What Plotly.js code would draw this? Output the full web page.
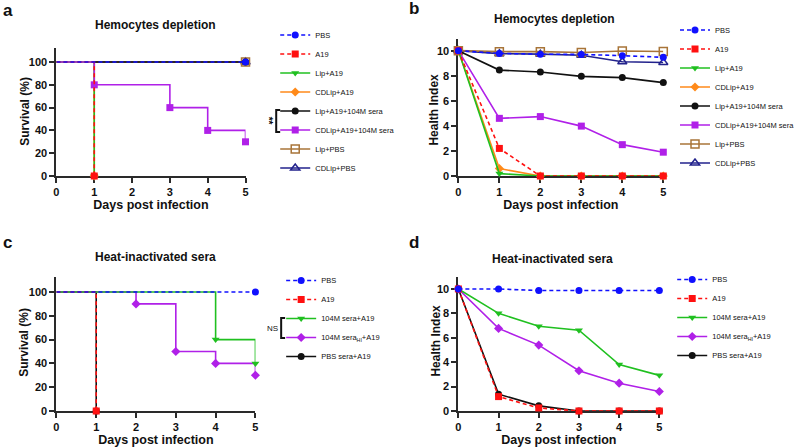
<!DOCTYPE html>
<html>
<head>
<meta charset="utf-8">
<script src="https://cdn.plot.ly/plotly-3.0.1.min.js"></script>
<style>html,body{margin:0;padding:0;background:#fff;}#chart{width:800px;height:448px;}</style>
</head>
<body>
<div id="chart"></div>
<script>
// ---------- DATA ----------
const days = [0, 1, 2, 3, 4, 5];

// Panel a: survival (%) step data, hemocytes depletion
const aNames = ["PBS", "A19", "Lip+A19", "CDLip+A19", "Lip+A19+104M sera", "CDLip+A19+104M sera", "Lip+PBS", "CDLip+PBS"];
const aPBS_x = [0, 5], aPBS_y = [100, 100];
const aA19_x = [0, 1], aA19_y = [100, 0];
const aLipA19_x = [0, 1], aLipA19_y = [100, 0];
const aCDLipA19_x = [0, 1], aCDLipA19_y = [100, 0];
const aLipA19Sera_x = [0, 5], aLipA19Sera_y = [100, 100];
const aCDLipA19Sera_x = [0, 1, 3, 4, 5], aCDLipA19Sera_y = [100, 80, 60, 40, 30];
const aLipPBS_x = [0, 5], aLipPBS_y = [100, 100];
const aCDLipPBS_x = [0, 5], aCDLipPBS_y = [100, 100];

// Panel b: health index, hemocytes depletion
const bPBS = [10, 9.78, 9.72, 9.7, 9.6, 9.47];
const bA19 = [10, 2.2, 0, 0, 0, 0];
const bLipA19 = [10, 0.19, 0, 0, 0, 0];
const bCDLipA19 = [10, 0.59, 0, 0, 0, 0];
const bLipA19Sera = [10, 8.45, 8.3, 7.95, 7.85, 7.45];
const bCDLipA19Sera = [10, 4.6, 4.74, 3.98, 2.5, 1.9];
const bLipPBS = [10, 9.92, 9.92, 9.85, 9.97, 9.93];
const bCDLipPBS = [10, 9.76, 9.72, 9.63, 9.12, 9.05];

// Panel c: survival (%), heat-inactivated sera
const cNames = ["PBS", "A19", "104M sera+A19", "104M sera<sub>HI</sub>+A19", "PBS sera+A19"];
const cPBS_x = [0, 5], cPBS_y = [100, 100];
const cA19_x = [0, 1], cA19_y = [100, 0];
const cSera_x = [0, 4, 5], cSera_y = [100, 60, 40];
const cSeraHI_x = [0, 2, 3, 4, 5], cSeraHI_y = [100, 90, 50, 40, 30];
const cPBSSera_x = [0, 1], cPBSSera_y = [100, 0];

// Panel d: health index, heat-inactivated sera
const dPBS = [10, 10, 9.87, 9.87, 9.87, 9.87];
const dA19 = [10, 1.18, 0.25, 0, 0, 0];
const dSera = [10, 8.0, 6.95, 6.62, 3.8, 2.92];
const dSeraHI = [10, 6.77, 5.4, 3.3, 2.28, 1.6];
const dPBSSera = [10, 1.38, 0.42, 0, 0, 0];

const tickDays = [0, 1, 2, 3, 4, 5];
const tickSurv = [0, 20, 40, 60, 80, 100];
const tickHealth = [0, 2, 4, 6, 8, 10];

// ---------- STYLE ----------
const C = {
  blue: "#1010ff", red: "#ff1010", green: "#20c020", orange: "#ff8a1a",
  black: "#111111", purple: "#b020e8", brown: "#a87438", navy: "#22228c"
};
const FONT = 'Arial, "Liberation Sans", sans-serif';
const W = 800, H = 448;
const px = v => v / W;
const py = v => 1 - v / H;

function kmTrace(name, xs, ys, color, symbol, dash, xa, ya, legend, rank, size) {
  const sel = [];
  for (let i = 1; i < xs.length; i++) sel.push(i);
  const open = symbol.indexOf("open") >= 0;
  return {
    type: "scatter", mode: "lines+markers", name: name, x: xs, y: ys,
    xaxis: xa, yaxis: ya, legend: legend, legendrank: rank,
    line: { shape: "hv", color: color, width: 1.6, dash: dash },
    marker: { symbol: symbol, size: size || 7, color: color, line: { color: color, width: open ? 1.5 : 0 } },
    selectedpoints: sel,
    selected: { marker: { opacity: 1 } },
    unselected: { marker: { opacity: 0 } },
    cliponaxis: false, hoverinfo: "x+y+name"
  };
}
function hiTrace(name, ys, color, symbol, dash, xa, ya, legend, rank, size) {
  const open = symbol.indexOf("open") >= 0;
  return {
    type: "scatter", mode: "lines+markers", name: name, x: days, y: ys,
    xaxis: xa, yaxis: ya, legend: legend, legendrank: rank,
    line: { color: color, width: 1.6, dash: dash },
    marker: { symbol: symbol, size: size || 7, color: color, line: { color: color, width: open ? 1.5 : 0 } },
    cliponaxis: false, hoverinfo: "x+y+name"
  };
}
const DASH = "4px,3px";

const traces = [
  // panel a (bottom to top drawing order)
  kmTrace(aNames[7], aCDLipPBS_x, aCDLipPBS_y, C.navy, "triangle-up-open", "solid", "x", "y", "legend", 8, 8),
  kmTrace(aNames[6], aLipPBS_x, aLipPBS_y, C.brown, "square-open", "solid", "x", "y", "legend", 7, 8),
  kmTrace(aNames[4], aLipA19Sera_x, aLipA19Sera_y, C.black, "circle", "solid", "x", "y", "legend", 5),
  kmTrace(aNames[3], aCDLipA19_x, aCDLipA19_y, C.orange, "diamond", "solid", "x", "y", "legend", 4),
  kmTrace(aNames[2], aLipA19_x, aLipA19_y, C.green, "triangle-down", "solid", "x", "y", "legend", 3),
  kmTrace(aNames[5], aCDLipA19Sera_x, aCDLipA19Sera_y, C.purple, "square", "solid", "x", "y", "legend", 6),
  kmTrace(aNames[1], aA19_x, aA19_y, C.red, "square", DASH, "x", "y", "legend", 2),
  kmTrace(aNames[0], aPBS_x, aPBS_y, C.blue, "circle", DASH, "x", "y", "legend", 1),
  // panel b
  hiTrace(aNames[7], bCDLipPBS, C.navy, "triangle-up-open", "solid", "x2", "y2", "legend2", 8, 8),
  hiTrace(aNames[6], bLipPBS, C.brown, "square-open", "solid", "x2", "y2", "legend2", 7, 8),
  hiTrace(aNames[4], bLipA19Sera, C.black, "circle", "solid", "x2", "y2", "legend2", 5),
  hiTrace(aNames[5], bCDLipA19Sera, C.purple, "square", "solid", "x2", "y2", "legend2", 6),
  hiTrace(aNames[3], bCDLipA19, C.orange, "diamond", "solid", "x2", "y2", "legend2", 4),
  hiTrace(aNames[2], bLipA19, C.green, "triangle-down", "solid", "x2", "y2", "legend2", 3),
  hiTrace(aNames[1], bA19, C.red, "square", DASH, "x2", "y2", "legend2", 2),
  hiTrace(aNames[0], bPBS, C.blue, "circle", DASH, "x2", "y2", "legend2", 1),
  // panel c
  kmTrace(cNames[4], cPBSSera_x, cPBSSera_y, C.black, "circle", "solid", "x3", "y3", "legend3", 5),
  kmTrace(cNames[3], cSeraHI_x, cSeraHI_y, C.purple, "diamond", "solid", "x3", "y3", "legend3", 4),
  kmTrace(cNames[2], cSera_x, cSera_y, C.green, "triangle-down", "solid", "x3", "y3", "legend3", 3),
  kmTrace(cNames[1], cA19_x, cA19_y, C.red, "square", DASH, "x3", "y3", "legend3", 2),
  kmTrace(cNames[0], cPBS_x, cPBS_y, C.blue, "circle", DASH, "x3", "y3", "legend3", 1),
  // panel d
  hiTrace(cNames[4], dPBSSera, C.black, "circle", "solid", "x4", "y4", "legend4", 5),
  hiTrace(cNames[3], dSeraHI, C.purple, "diamond", "solid", "x4", "y4", "legend4", 4),
  hiTrace(cNames[2], dSera, C.green, "triangle-down", "solid", "x4", "y4", "legend4", 3),
  hiTrace(cNames[1], dA19, C.red, "square", DASH, "x4", "y4", "legend4", 2),
  hiTrace(cNames[0], dPBS, C.blue, "circle", DASH, "x4", "y4", "legend4", 1)
];

function axis(extra) {
  return Object.assign({
    showline: true, linecolor: "#2a2a2a", linewidth: 2,
    ticks: "outside", ticklen: 5, tickwidth: 2, tickcolor: "#2a2a2a",
    showgrid: false, zeroline: false, layer: "below traces", fixedrange: true,
    tickfont: { family: FONT, size: 11, weight: "bold", color: "#111" }
  }, extra);
}
function xTitle(standoff) {
  return { text: "Days post infection", standoff: standoff, font: { family: FONT, size: 12.5, weight: "bold", color: "#111" } };
}
function legendAt(xpx, topPx) {
  return {
    x: px(xpx), y: py(topPx), xanchor: "left", yanchor: "top",
    bgcolor: "rgba(0,0,0,0)", borderwidth: 0, tracegroupgap: 0, itemwidth: 30,
    font: { family: FONT, size: 7.5, color: "#111" }, traceorder: "normal"
  };
}
function ann(text, xpx, ypx, size, extra) {
  return Object.assign({
    text: text, xref: "paper", yref: "paper", x: px(xpx), y: py(ypx),
    xanchor: "center", yanchor: "middle", showarrow: false,
    font: { family: FONT, size: size, weight: "bold", color: "#111" }
  }, extra || {});
}
function bracket(xv, y1, y2, tick) {
  return {
    type: "path", xref: "paper", yref: "paper",
    path: "M" + px(xv + tick) + "," + py(y1) + " L" + px(xv) + "," + py(y1) +
          " L" + px(xv) + "," + py(y2) + " L" + px(xv + tick) + "," + py(y2),
    line: { color: "#111", width: 2 }
  };
}

const layout = {
  width: W, height: H, margin: { l: 0, r: 0, t: 0, b: 0 },
  paper_bgcolor: "#fff", plot_bgcolor: "rgba(0,0,0,0)",
  font: { family: FONT, color: "#111" },
  xaxis: axis({ domain: [px(57), px(248)], range: [0, 5], tickvals: tickDays, anchor: "y", title: xTitle(3) }),
  yaxis: axis({ domain: [py(176), py(48)], range: [0, 112.3], tickvals: tickSurv, anchor: "x" }),
  xaxis2: axis({ domain: [px(463), px(670)], range: [0, 5], tickvals: tickDays, anchor: "y2", title: xTitle(3) }),
  yaxis2: axis({ domain: [py(176), py(39)], range: [0, 10.93], tickvals: tickHealth, anchor: "x2" }),
  xaxis3: axis({ domain: [px(57), px(258)], range: [0, 5], tickvals: tickDays, anchor: "y3", title: xTitle(2) }),
  yaxis3: axis({ domain: [py(411), py(277)], range: [0, 112.6], tickvals: tickSurv, anchor: "x3" }),
  xaxis4: axis({ domain: [px(463), px(666)], range: [0, 5], tickvals: tickDays, anchor: "y4", title: xTitle(0) }),
  yaxis4: axis({ domain: [py(411), py(277)], range: [0, 10.98], tickvals: tickHealth, anchor: "x4" }),
  legend: legendAt(278, 20.5),
  legend2: legendAt(682, 15.5),
  legend3: legendAt(284, 266),
  legend4: legendAt(679, 265),
  showlegend: true,
  annotations: [
    ann("a", 8, 10, 17),
    ann("b", 418, 9, 17),
    ann("c", 8, 242, 17),
    ann("d", 418, 242, 17),
    ann("Hemocytes depletion", 157, 25, 12),
    ann("Hemocytes depletion", 560, 19, 12),
    ann("Heat-inactivated sera", 157, 257, 12),
    ann("Heat-inactivated sera", 558, 259, 12),
    ann("Survival (%)", 25, 111, 12, { textangle: -90 }),
    ann("Health Index", 438, 110, 12, { textangle: -90 }),
    ann("Survival (%)", 24, 342, 12, { textangle: -90 }),
    ann("Health Index", 440, 341, 12, { textangle: -90 }),
    ann("**", 272, 121, 10, { textangle: 90 }),
    ann("NS", 275, 328, 8, { font: { family: FONT, size: 8, color: "#111" } })
  ],
  shapes: [
    bracket(279, 110, 132, 4),
    bracket(284, 318, 338, 4)
  ]
};

Plotly.newPlot("chart", traces, layout, { staticPlot: true, displayModeBar: false });
</script>
</body>
</html>
